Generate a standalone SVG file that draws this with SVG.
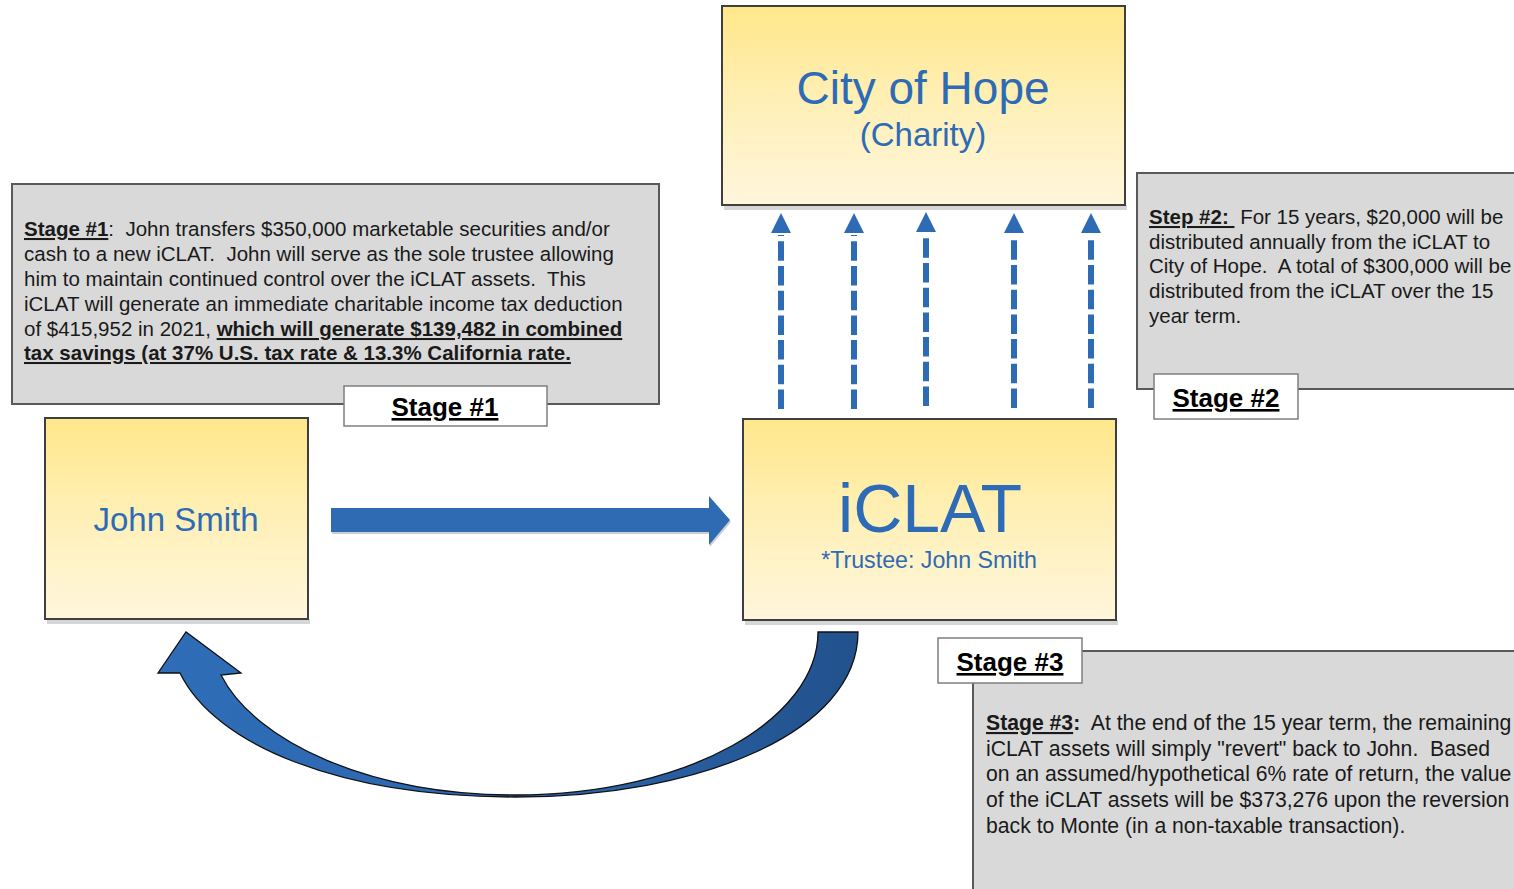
<svg xmlns="http://www.w3.org/2000/svg" width="1514" height="889" viewBox="0 0 1514 889">
  <defs>
    <linearGradient id="yellowFill" x1="0" y1="0" x2="0" y2="1">
      <stop offset="0" stop-color="#ffe78a"/>
      <stop offset="0.5" stop-color="#fff0b8"/>
      <stop offset="1" stop-color="#fff6dc"/>
    </linearGradient>
    <linearGradient id="curveFill" x1="0" y1="0" x2="1" y2="0">
      <stop offset="0" stop-color="#2f6db8"/>
      <stop offset="0.55" stop-color="#2c67ae"/>
      <stop offset="1" stop-color="#22518c"/>
    </linearGradient>
    <style>
      .entity { fill: url(#yellowFill); stroke: #3f3f3f; stroke-width: 2; }
      .shadow { fill: #d6d6d6; }
      .panel { fill: #d9d9d9; stroke: #595959; stroke-width: 2; }
      .tag { fill: #ffffff; stroke: #7f7f7f; stroke-width: 1.5; }
      .name { font-family: "Liberation Sans", Arial, sans-serif; fill: #2e6bb6; text-anchor: middle; }
      .body { font-family: "Liberation Sans", Arial, sans-serif; font-size: 20.5px; fill: #1a1a1a; white-space: pre; }
      .body3 { font-size: 21.2px; }
      .tagText { font-family: "Liberation Sans", Arial, sans-serif; font-size: 26px; font-weight: bold; fill: #000; text-anchor: middle; text-decoration: underline; }
      .b { font-weight: bold; }
      .u { text-decoration: underline; }
      .flow { stroke: #2e6bb5; stroke-width: 6; stroke-dasharray: 19.5 5.2; fill: none; }
      .flowHead { fill: #2e6bb5; }
    </style>
  </defs>

  <!-- Stage 1 explanation panel -->
  <g id="stage1-panel">
    <rect class="panel" x="12" y="184" width="647" height="220"/>
    <text class="body" x="24" y="236"><tspan class="b u">Stage #1</tspan>:  John transfers $350,000 marketable securities and/or</text>
    <text class="body" x="24" y="261">cash to a new iCLAT.  John will serve as the sole trustee allowing</text>
    <text class="body" x="24" y="286">him to maintain continued control over the iCLAT assets.  This</text>
    <text class="body" x="24" y="311">iCLAT will generate an immediate charitable income tax deduction</text>
    <text class="body" x="24" y="336">of $415,952 in 2021, <tspan class="b u">which will generate $139,482 in combined</tspan></text>
    <text class="body" x="24" y="360"><tspan class="b u">tax savings (at 37% U.S. tax rate &amp; 13.3% California rate.</tspan></text>
  </g>
  <g id="stage1-tag">
    <rect class="tag" x="344" y="386" width="203" height="40"/>
    <text class="tagText" x="445" y="416">Stage #1</text>
  </g>

  <!-- Stage 2 explanation panel -->
  <g id="stage2-panel">
    <rect class="panel" x="1137" y="173" width="390" height="216"/>
    <text class="body" x="1149" y="224"><tspan class="b u">Step #2: </tspan> For 15 years, $20,000 will be</text>
    <text class="body" x="1149" y="249">distributed annually from the iCLAT to</text>
    <text class="body" x="1149" y="273">City of Hope.  A total of $300,000 will be</text>
    <text class="body" x="1149" y="298">distributed from the iCLAT over the 15</text>
    <text class="body" x="1149" y="323">year term.</text>
  </g>
  <g id="stage2-tag">
    <rect class="tag" x="1154" y="374" width="144" height="45"/>
    <text class="tagText" x="1226" y="407">Stage #2</text>
  </g>

  <!-- Stage 3 explanation panel -->
  <g id="stage3-panel">
    <rect class="panel" x="973" y="651" width="560" height="250"/>
    <text class="body body3" x="986" y="730"><tspan class="b u">Stage #3</tspan><tspan class="b">:</tspan>  At the end of the 15 year term, the remaining</text>
    <text class="body body3" x="986" y="756">iCLAT assets will simply "revert" back to John.  Based</text>
    <text class="body body3" x="986" y="781">on an assumed/hypothetical 6% rate of return, the value</text>
    <text class="body body3" x="986" y="807">of the iCLAT assets will be $373,276 upon the reversion</text>
    <text class="body body3" x="986" y="833">back to Monte (in a non-taxable transaction).</text>
  </g>
  <g id="stage3-tag">
    <rect class="tag" x="938" y="638" width="144" height="45"/>
    <text class="tagText" x="1010" y="671">Stage #3</text>
  </g>

  <!-- Parties -->
  <g id="city-of-hope">
    <rect class="shadow" x="724" y="205" width="403" height="5"/>
    <rect class="entity" x="722" y="6" width="403" height="199"/>
    <text class="name" x="923" y="104" font-size="46">City of Hope</text>
    <text class="name" x="923" y="146" font-size="33">(Charity)</text>
  </g>

  <g id="john-smith">
    <rect class="shadow" x="47" y="619" width="263" height="5"/>
    <rect class="entity" x="45" y="418" width="263" height="201"/>
    <text class="name" x="176" y="531" font-size="33">John Smith</text>
  </g>

  <g id="iclat">
    <rect class="shadow" x="745" y="620" width="373" height="5"/>
    <rect class="entity" x="743" y="419" width="373" height="201"/>
    <text class="name" x="930" y="532" font-size="68">iCLAT</text>
    <text class="name" x="929" y="568" font-size="23.2">*Trustee: John Smith</text>
  </g>

  <!-- Connectors -->
  <g id="connectors">
    <!-- transfer into the trust -->
    <polygon points="331,509 709,509 709,496 730,520 709,545 709,532 331,532" fill="#c8cdd6" transform="translate(1,2)"/>
    <polygon points="331,508 709,508 709,496 730,520 709,545 709,532 331,532" fill="#2e6bb2"/>

    <!-- annual distributions to the charity -->
    <g id="distributions">
      <line class="flow" x1="781" y1="409" x2="781" y2="235"/>
      <polygon class="flowHead" points="781,213 771,233 791,233"/>
      <line class="flow" x1="854" y1="409" x2="854" y2="235"/>
      <polygon class="flowHead" points="854,213 844,233 864,233"/>
      <line class="flow" x1="926" y1="406" x2="926" y2="233"/>
      <polygon class="flowHead" points="926,212 916,232 936,232"/>
      <line class="flow" x1="1014" y1="408" x2="1014" y2="235"/>
      <polygon class="flowHead" points="1014,213 1004,233 1024,233"/>
      <line class="flow" x1="1091" y1="408" x2="1091" y2="235"/>
      <polygon class="flowHead" points="1091,213 1081,233 1101,233"/>
    </g>

    <!-- reversion back to the grantor -->
    <path d="M858,632 C858,732 700,797 515,797 C340,797 215,745 180,673 L158,673 L186,632 L241,673 L221,675 C255,742 370,795 515,795 C690,795 818,718 818,632 Z"
          fill="url(#curveFill)" stroke="#111" stroke-width="1.3" stroke-linejoin="miter"/>
  </g>
</svg>
